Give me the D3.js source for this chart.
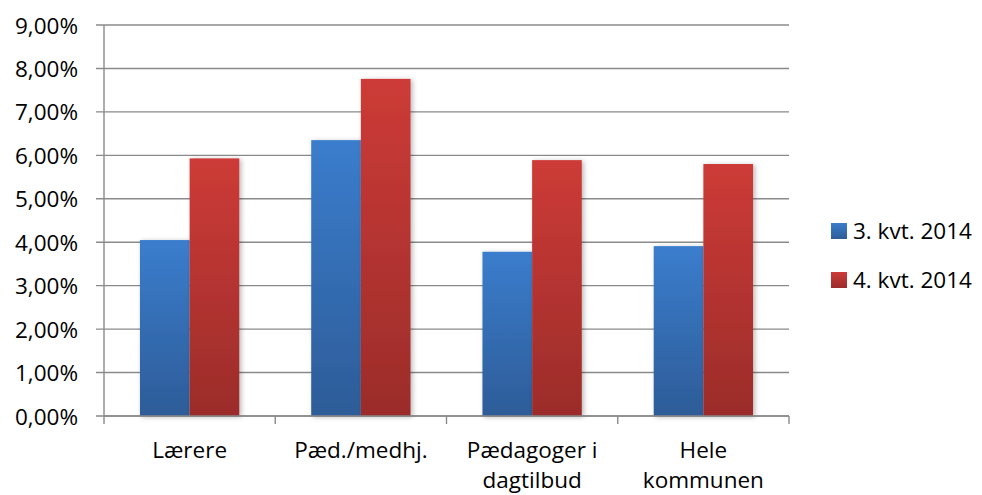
<!DOCTYPE html>
<html>
<head>
<meta charset="utf-8">
<script src="https://cdnjs.cloudflare.com/ajax/libs/d3/7.8.5/d3.min.js"></script>
<style>
  body { margin: 0; background: #fff; }
  text { font-family: "Open Sans", Lato, sans-serif; fill: #000; }
</style>
</head>
<body>
<svg id="chart" width="982" height="495"></svg>
<script>
document.addEventListener('DOMContentLoaded', function() {
    // chart data
    const categories = [["Lærere"], ["Pæd./medhj."], ["Pædagoger i", "dagtilbud"], ["Hele", "kommunen"]];
    const seriesNames = ["3. kvt. 2014", "4. kvt. 2014"];
    const q3 = [4.05, 6.35, 3.78, 3.91];
    const q4 = [5.93, 7.76, 5.89, 5.80];
    const yTicks = [0, 1, 2, 3, 4, 5, 6, 7, 8, 9];

    const svg = d3.select("#chart");
    const margin = { top: 25, right: 193, bottom: 79, left: 104 };
    const width = +svg.attr("width");
    const height = +svg.attr("height");
    const innerWidth = width - margin.left - margin.right;
    const innerHeight = height - margin.top - margin.bottom;

    const gridColor = "#8a8a8a";
    const fontSize = "22.5px";
    const gradStops = [
        { top: "#3b7dcd", bottom: "#2d5c98" },
        { top: "#cd3b37", bottom: "#9b2c2a" }
    ];

    const defs = svg.append("defs");
    gradStops.forEach((c, i) => {
        const lg = defs.append("linearGradient")
            .attr("id", "grad" + i)
            .attr("x1", 0).attr("y1", 0).attr("x2", 0).attr("y2", 1);
        lg.append("stop").attr("offset", "0%").attr("stop-color", c.top);
        lg.append("stop").attr("offset", "100%").attr("stop-color", c.bottom);
    });
    const shadow = defs.append("filter").attr("id", "shadow")
        .attr("x", "-20%").attr("y", "-10%").attr("width", "150%").attr("height", "130%");
    shadow.append("feDropShadow")
        .attr("dx", 2).attr("dy", 1).attr("stdDeviation", 2.5)
        .attr("flood-color", "#000").attr("flood-opacity", 0.28);

    const labels = categories.map(c => c.join(" "));
    const x0 = d3.scaleBand().domain(labels).range([0, innerWidth]).paddingInner(0).paddingOuter(0);
    const groupPad = 0.21;
    const x1 = d3.scaleBand().domain(seriesNames)
        .range([x0.bandwidth() * groupPad, x0.bandwidth() * (1 - groupPad)]);
    const y = d3.scaleLinear().domain([0, 9]).range([innerHeight, 0]);

    const g = svg.append("g").attr("transform", `translate(${margin.left},${margin.top})`);

    // gridlines
    g.append("g").selectAll("line").data(yTicks).enter().append("line")
        .attr("x1", -8).attr("x2", innerWidth)
        .attr("y1", d => y(d)).attr("y2", d => y(d))
        .attr("stroke", gridColor).attr("stroke-width", 1.4);

    // y axis
    const yAxis = d3.axisLeft(y).tickValues(yTicks).tickSize(0).tickPadding(26)
        .tickFormat(d => d3.format(".2f")(d).replace(".", ",") + "%");
    const ya = g.append("g").attr("class", "y-axis").call(yAxis);
    ya.select(".domain").remove();
    ya.selectAll("text").style("font-size", fontSize).attr("dy", "0.36em");
    g.append("line").attr("x1", 0).attr("x2", 0).attr("y1", 0).attr("y2", innerHeight)
        .attr("stroke", gridColor).attr("stroke-width", 1.4);

    // bars
    const data = labels.map((l, i) => ({ label: l, values: [q3[i], q4[i]] }));
    const groups = g.selectAll(".grp").data(data).enter().append("g")
        .attr("class", "grp")
        .attr("transform", d => `translate(${x0(d.label)},0)`);
    groups.selectAll("rect")
        .data(d => d.values.map((v, i) => ({ key: seriesNames[i], value: v, i: i })))
        .enter().append("rect")
        .attr("x", d => x1(d.key))
        .attr("y", d => y(d.value))
        .attr("width", x1.bandwidth())
        .attr("height", d => innerHeight - y(d.value))
        .attr("fill", d => `url(#grad${d.i})`)
        .attr("filter", "url(#shadow)");

    // x axis
    g.append("line").attr("x1", 0).attr("x2", innerWidth)
        .attr("y1", innerHeight).attr("y2", innerHeight)
        .attr("stroke", gridColor).attr("stroke-width", 1.4);
    const bounds = labels.map(l => x0(l)).concat([innerWidth]);
    g.append("g").selectAll("line").data(bounds).enter().append("line")
        .attr("x1", d => d).attr("x2", d => d)
        .attr("y1", innerHeight).attr("y2", innerHeight + 8)
        .attr("stroke", gridColor).attr("stroke-width", 1.4);

    const xl = g.append("g").selectAll("text").data(categories).enter().append("text")
        .attr("text-anchor", "middle")
        .attr("x", (d, i) => x0(labels[i]) + x0.bandwidth() / 2)
        .attr("y", innerHeight + 42)
        .style("font-size", fontSize);
    xl.selectAll("tspan").data(d => d).enter().append("tspan")
        .attr("x", function() { return d3.select(this.parentNode).attr("x"); })
        .attr("dy", (d, i) => i === 0 ? 0 : 30)
        .text(d => d);

    // legend
    const legend = svg.append("g").attr("transform", "translate(831,223)");
    const items = legend.selectAll("g").data(seriesNames).enter().append("g")
        .attr("transform", (d, i) => `translate(0,${i * 49})`);
    items.append("rect").attr("width", 16).attr("height", 16)
        .attr("fill", (d, i) => `url(#grad${i})`);
    items.append("text").attr("x", 22).attr("y", 16)
        .style("font-size", fontSize)
        .text(d => d);
});
</script>
</body>
</html>
